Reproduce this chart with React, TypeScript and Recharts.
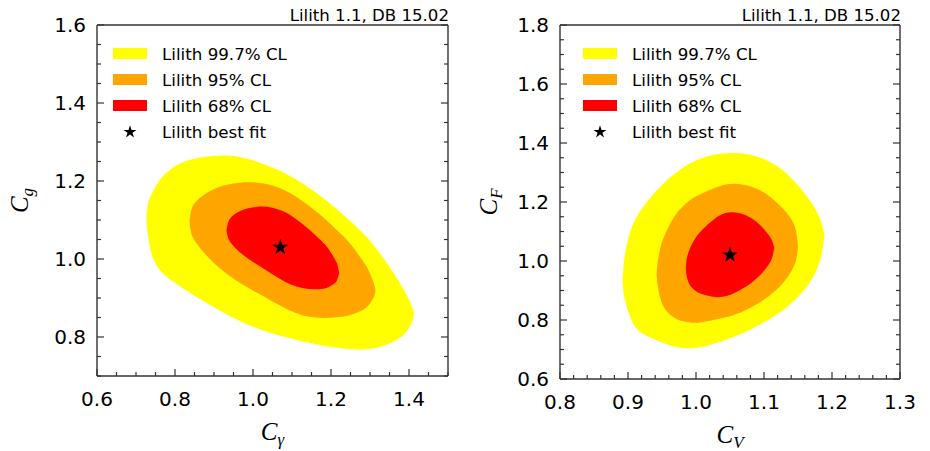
import React from "react";
import { Area, ComposedChart, Label, Legend, Scatter, Symbols, XAxis, YAxis } from "recharts";

// contour boundaries: [x, lower y, upper y]
const gammaYellow: [number, number, number][] = [
  [0.727, 1.104, 1.104], [0.728, 1.08, 1.13], [0.732, 1.047, 1.151], [0.741, 1.005, 1.168],
  [0.754, 0.98, 1.194], [0.771, 0.959, 1.215], [0.796, 0.942, 1.237], [0.822, 0.923, 1.25],
  [0.86, 0.9, 1.261], [0.924, 0.862, 1.267], [0.967, 0.84, 1.263], [1.011, 0.822, 1.25],
  [1.052, 0.808, 1.234], [1.096, 0.796, 1.215], [1.18, 0.776, 1.159], [1.267, 0.767, 1.082],
  [1.3, 0.768, 1.049], [1.344, 0.779, 0.989], [1.378, 0.797, 0.938], [1.399, 0.818, 0.899],
  [1.41, 0.844, 0.874], [1.413, 0.86, 0.86],
];
const gammaOrange: [number, number, number][] = [
  [0.837, 1.096, 1.096], [0.84, 1.07, 1.122], [0.847, 1.049, 1.144], [0.883, 1.005, 1.172],
  [0.924, 0.967, 1.19], [0.967, 0.938, 1.197], [1.011, 0.913, 1.197], [1.052, 0.89, 1.19],
  [1.096, 0.866, 1.17], [1.139, 0.851, 1.14], [1.18, 0.848, 1.108], [1.224, 0.851, 1.066],
  [1.25, 0.856, 1.041], [1.283, 0.869, 0.993], [1.293, 0.876, 0.979], [1.306, 0.895, 0.948],
  [1.312, 0.906, 0.932], [1.314, 0.92, 0.92],
];
const gammaRed: [number, number, number][] = [
  [0.932, 1.074, 1.074], [0.935, 1.055, 1.092], [0.942, 1.041, 1.108], [0.967, 1.015, 1.126],
  [1.011, 0.985, 1.136], [1.052, 0.959, 1.133], [1.096, 0.932, 1.116], [1.147, 0.921, 1.074],
  [1.18, 0.923, 1.042], [1.191, 0.926, 1.031], [1.211, 0.938, 0.998], [1.216, 0.945, 0.99],
  [1.221, 0.964, 0.964],
];
const gammaBest = [{ x: 1.07, y: 1.03 }];

const vYellow: [number, number, number][] = [
  [0.892, 0.935, 0.935], [0.893, 0.895, 0.975], [0.896, 0.858, 1.038], [0.904, 0.801, 1.11],
  [0.913, 0.765, 1.152], [0.93, 0.742, 1.21], [0.957, 0.716, 1.275], [0.981, 0.703, 1.32],
  [1.006, 0.705, 1.349], [1.035, 0.725, 1.366], [1.065, 0.75, 1.368], [1.094, 0.784, 1.354],
  [1.124, 0.824, 1.32], [1.153, 0.88, 1.252], [1.178, 0.959, 1.174], [1.186, 1.035, 1.12],
  [1.189, 1.085, 1.085],
];
const vOrange: [number, number, number][] = [
  [0.942, 0.955, 0.955], [0.943, 0.925, 0.985], [0.947, 0.869, 1.049], [0.955, 0.83, 1.095],
  [0.967, 0.808, 1.151], [0.979, 0.795, 1.182], [0.994, 0.79, 1.213], [1.006, 0.79, 1.225],
  [1.035, 0.804, 1.258], [1.06, 0.818, 1.264], [1.084, 0.846, 1.254], [1.109, 0.88, 1.222],
  [1.133, 0.936, 1.167], [1.143, 0.975, 1.134], [1.148, 1.004, 1.1], [1.15, 1.05, 1.05],
];
const vRed: [number, number, number][] = [
  [0.985, 0.975, 0.975], [0.986, 0.945, 1.01], [0.991, 0.914, 1.046], [0.999, 0.9, 1.078],
  [1.006, 0.888, 1.1], [1.035, 0.872, 1.162], [1.055, 0.888, 1.168], [1.075, 0.914, 1.156],
  [1.094, 0.948, 1.126], [1.109, 0.993, 1.083], [1.113, 1.015, 1.065], [1.115, 1.045, 1.045],
];
const vBest = [{ x: 1.05, y: 1.02 }];

// ticks
const gammaXTicks = [0.6, 0.65, 0.7, 0.75, 0.8, 0.85, 0.9, 0.95, 1.0, 1.05, 1.1, 1.15, 1.2, 1.25, 1.3, 1.35, 1.4, 1.45, 1.5];
const gammaXMajor = [0.6, 0.8, 1.0, 1.2, 1.4];
const gammaYTicks = [0.7, 0.75, 0.8, 0.85, 0.9, 0.95, 1.0, 1.05, 1.1, 1.15, 1.2, 1.25, 1.3, 1.35, 1.4, 1.45, 1.5, 1.55, 1.6];
const gammaYMajor = [0.8, 1.0, 1.2, 1.4, 1.6];
const vXTicks = [0.8, 0.82, 0.84, 0.86, 0.88, 0.9, 0.92, 0.94, 0.96, 0.98, 1.0, 1.02, 1.04, 1.06, 1.08, 1.1, 1.12, 1.14, 1.16, 1.18, 1.2, 1.22, 1.24, 1.26, 1.28, 1.3];
const vXMajor = [0.8, 0.9, 1.0, 1.1, 1.2, 1.3];
const vYTicks = [0.6, 0.65, 0.7, 0.75, 0.8, 0.85, 0.9, 0.95, 1.0, 1.05, 1.1, 1.15, 1.2, 1.25, 1.3, 1.35, 1.4, 1.45, 1.5, 1.55, 1.6, 1.65, 1.7, 1.75, 1.8];
const vYMajor = [0.6, 0.8, 1.0, 1.2, 1.4, 1.6, 1.8];

const legendLabels = ["Lilith 99.7% CL", "Lilith 95% CL", "Lilith 68% CL", "Lilith best fit"];
const fills = ["#ffff00", "#ffa500", "#ff0000"];
const stamp = "Lilith 1.1, DB 15.02";

const FRAME = "#333333";
const FONT = "'DejaVu Sans', sans-serif";

const toRows = (pts: [number, number, number][]) => pts.map(([x, lo, hi]) => ({ x, band: [lo, hi] }));

function tickFor(side: "bottom" | "top" | "left" | "right", major: number[]) {
  return (props: any) => {
    const { x, y, payload } = props;
    const v = payload.value as number;
    const isMajor = major.some((m) => Math.abs(m - v) < 1e-6);
    const len = isMajor ? 7 : 4;
    let line = null;
    let text = null;
    if (side === "bottom") {
      line = <line x1={x} y1={y} x2={x} y2={y - len} />;
      if (isMajor)
        text = <text x={x} y={y + 30} textAnchor="middle">{v.toFixed(1)}</text>;
    } else if (side === "top") {
      line = <line x1={x} y1={y} x2={x} y2={y + len} />;
    } else if (side === "left") {
      line = <line x1={x} y1={y} x2={x + len} y2={y} />;
      if (isMajor)
        text = <text x={x - 11} y={y + 7} textAnchor="end">{v.toFixed(1)}</text>;
    } else {
      line = <line x1={x} y1={y} x2={x - len} y2={y} />;
    }
    return (
      <g>
        <g stroke={FRAME} strokeWidth={1.2}>{line}</g>
        {text && <g fill="#000" fontSize={20} fontFamily={FONT}>{text}</g>}
      </g>
    );
  };
}

function StarIcon() {
  return (
    <svg width={34} height={14}>
      <Symbols cx={17} cy={7} type="star" size={52} fill="#000" />
    </svg>
  );
}

function LegendBox() {
  return (
    <div style={{ fontFamily: FONT, fontSize: 16.7, color: "#000" }}>
      {legendLabels.map((name, i) => (
        <div key={name} style={{ display: "flex", alignItems: "center", height: 26 }}>
          {i < 3 ? (
            <div style={{ width: 34, height: 11, background: fills[i] }} />
          ) : (
            <StarIcon />
          )}
          <span style={{ marginLeft: 15, whiteSpace: "nowrap" }}>{name}</span>
        </div>
      ))}
    </div>
  );
}

type PanelProps = {
  width: number;
  margin: { top: number; right: number; bottom: number; left: number };
  yWidth: number;
  xHeight: number;
  xDomain: [number, number];
  yDomain: [number, number];
  xTicks: number[];
  xMajor: number[];
  yTicks: number[];
  yMajor: number[];
  contours: [number, number, number][][];
  best: { x: number; y: number }[];
  xSub: string;
  ySub: string;
  yLabelX: number;
  legendPos: { left: number; top: number };
};

function Panel(p: PanelProps) {
  const axisLine = { stroke: FRAME, strokeWidth: 1.4 };
  return (
    <ComposedChart width={p.width} height={451} margin={p.margin}>
      <XAxis
        xAxisId="b"
        dataKey="x"
        type="number"
        domain={p.xDomain}
        ticks={p.xTicks}
        interval={0}
        allowDataOverflow
        height={p.xHeight}
        tickSize={0}
        tickMargin={0}
        tickLine={false}
        axisLine={axisLine}
        tick={tickFor("bottom", p.xMajor)}
      >
        <Label
          content={(props: any) => {
            const vb = props.viewBox;
            return (
              <text
                x={vb.x + vb.width / 2}
                y={vb.y + 64}
                textAnchor="middle"
                fontFamily="'Liberation Serif', serif"
                fontStyle="italic"
                fontSize={25}
                fill="#000"
              >
                C<tspan fontSize={17} dy={5}>{p.xSub}</tspan>
              </text>
            );
          }}
        />
      </XAxis>
      <XAxis
        xAxisId="t"
        orientation="top"
        type="number"
        domain={p.xDomain}
        ticks={p.xTicks}
        interval={0}
        allowDataOverflow
        height={1}
        tickSize={0}
        tickMargin={0}
        tickLine={false}
        axisLine={axisLine}
        tick={tickFor("top", p.xMajor)}
      >
        <Label
          content={(props: any) => {
            const vb = props.viewBox;
            return (
              <text x={vb.x + vb.width + 1} y={21} textAnchor="end" fontFamily={FONT} fontSize={16.6} fill="#000">
                {stamp}
              </text>
            );
          }}
        />
      </XAxis>
      <YAxis
        yAxisId="l"
        type="number"
        domain={p.yDomain}
        ticks={p.yTicks}
        interval={0}
        allowDataOverflow
        width={p.yWidth}
        tickSize={0}
        tickMargin={0}
        tickLine={false}
        axisLine={axisLine}
        tick={tickFor("left", p.yMajor)}
      >
        <Label
          content={(props: any) => {
            const vb = props.viewBox;
            const cx = vb.x + p.yLabelX;
            const cy = vb.y + vb.height / 2;
            return (
              <text
                transform={`rotate(-90 ${cx} ${cy})`}
                x={cx}
                y={cy}
                textAnchor="middle"
                fontFamily="'Liberation Serif', serif"
                fontStyle="italic"
                fontSize={25}
                fill="#000"
              >
                C<tspan fontSize={17} dy={5}>{p.ySub}</tspan>
              </text>
            );
          }}
        />
      </YAxis>
      <YAxis
        yAxisId="r"
        orientation="right"
        type="number"
        domain={p.yDomain}
        ticks={p.yTicks}
        interval={0}
        allowDataOverflow
        width={1}
        tickSize={0}
        tickMargin={0}
        tickLine={false}
        axisLine={axisLine}
        tick={tickFor("right", p.yMajor)}
      />
      {p.contours.map((pts, i) => (
        <Area
          key={i}
          data={toRows(pts)}
          xAxisId="b"
          yAxisId="l"
          dataKey="band"
          type="basis"
          stroke="none"
          fill={fills[i]}
          fillOpacity={1}
          dot={false}
          activeDot={false}
          isAnimationActive={false}
        />
      ))}
      <Scatter
        data={p.best}
        xAxisId="b"
        yAxisId="l"
        dataKey="y"
        isAnimationActive={false}
        shape={(s: any) => <Symbols cx={s.cx} cy={s.cy} type="star" size={78} fill="#000" />}
      />
      <Legend
        layout="vertical"
        align="center"
        verticalAlign="middle"
        wrapperStyle={{ left: p.legendPos.left, top: p.legendPos.top, width: 230, height: 110 }}
        content={() => <LegendBox />}
      />
    </ComposedChart>
  );
}

export default function App() {
  return (
    <div style={{ position: "absolute", left: 0, top: 0, width: 930, height: 451, background: "#fff" }}>
      <div style={{ position: "absolute", left: 0, top: 0 }}>
        <Panel
          width={460}
          margin={{ top: 24, right: 11, bottom: 0, left: 0 }}
          yWidth={97}
          xHeight={75}
          xDomain={[0.6, 1.5]}
          yDomain={[0.7, 1.6]}
          xTicks={gammaXTicks}
          xMajor={gammaXMajor}
          yTicks={gammaYTicks}
          yMajor={gammaYMajor}
          contours={[gammaYellow, gammaOrange, gammaRed]}
          best={gammaBest}
          xSub="γ"
          ySub="g"
          yLabelX={28}
          legendPos={{ left: 113, top: 40.5 }}
        />
      </div>
      <div style={{ position: "absolute", left: 460, top: 0 }}>
        <Panel
          width={470}
          margin={{ top: 24, right: 29, bottom: 0, left: 0 }}
          yWidth={100}
          xHeight={72}
          xDomain={[0.8, 1.3]}
          yDomain={[0.6, 1.8]}
          xTicks={vXTicks}
          xMajor={vXMajor}
          yTicks={vYTicks}
          yMajor={vYMajor}
          contours={[vYellow, vOrange, vRed]}
          best={vBest}
          xSub="V"
          ySub="F"
          yLabelX={37}
          legendPos={{ left: 123, top: 40.5 }}
        />
      </div>
    </div>
  );
}
